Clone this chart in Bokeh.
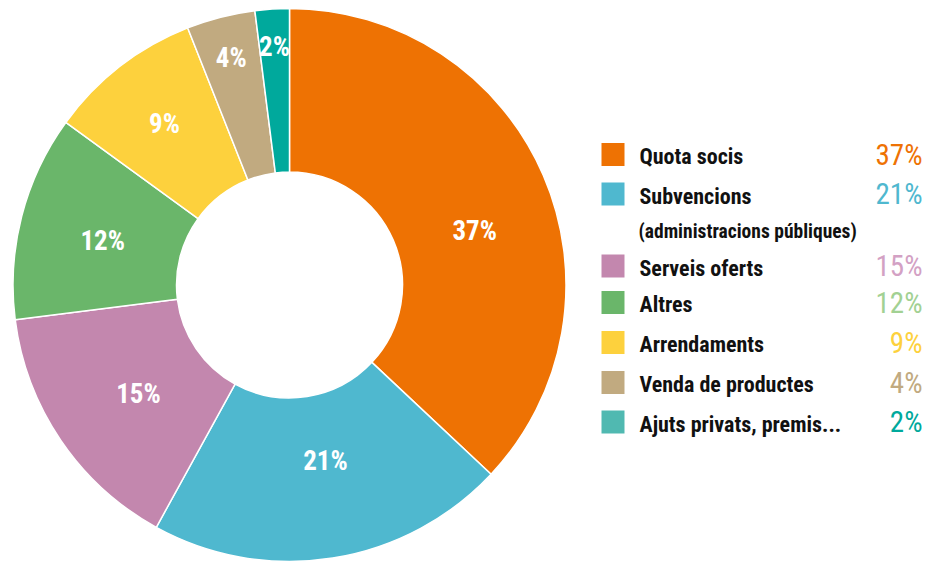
import math
from bokeh.plotting import figure
from bokeh.models import ColumnDataSource, Range1d
from bokeh.core.properties import value
from bokeh.embed import file_html
from bokeh.resources import INLINE

# ---- data ----
categories = ["Quota socis", "Subvencions", "Serveis oferts", "Altres",
              "Arrendaments", "Venda de productes", "Ajuts privats, premis..."]
values = [37, 21, 15, 12, 9, 4, 2]
sub_labels = ["", "(administracions públiques)", "", "", "", "", ""]
pct_labels = [f"{v}%" for v in values]

# ---- styles / layout ----
slice_colors = ["#EE7203", "#4FB8CF", "#C387AE", "#6AB66A", "#FDD13D", "#C1AA80", "#00A99C"]
swatch_colors = ["#EE7203", "#4FB8CF", "#C387AE", "#6AB66A", "#FDD13D", "#C1AA80", "#50B9B1"]
legend_pct_colors = ["#EE7203", "#4FB8CF", "#D3A1C4", "#A2D193", "#FDD13D", "#C1AA80", "#00A99C"]
label_r = [193, 180, 186, 192, 204, 234, 238]
label_shift_deg = [7.0, -2.5, -1.5, -1.0, 0.0, 0.0, 0.0]
legend_row_y = [408, 368.5, 296.5, 260, 220, 180, 140.5]   # swatch centres
sub_offset = 37.5

FONT = "Roboto Condensed"

W, H = 928, 562
p = figure(width=W, height=H, output_backend="svg", toolbar_location=None,
           x_range=Range1d(0, W), y_range=Range1d(0, H), min_border=0)
p.axis.visible = False
p.grid.visible = False
p.outline_line_color = None
p.background_fill_color = "white"
p.border_fill_color = "white"

cx, cy = 289.0, 277.5
r_in, r_out = 113.0, 276.5

total = float(sum(values))
starts, ends, mids = [], [], []
acc = 0.0
for v in values:
    a0 = acc / total * 360.0
    acc += v
    a1 = acc / total * 360.0
    starts.append(a0)
    ends.append(a1)
    mids.append((a0 + a1) / 2.0)

def to_rad(deg):
    return math.radians(90.0 - deg)

src = ColumnDataSource(dict(
    start=[to_rad(a) for a in starts],
    end=[to_rad(a) for a in ends],
    color=slice_colors,
))
p.annular_wedge(x=cx, y=cy, inner_radius=r_in, outer_radius=r_out,
                start_angle="start", end_angle="end", direction="clock",
                fill_color="color", line_color="white", line_width=1.5, source=src)

lx = [cx + r * math.sin(math.radians(m + s)) for r, m, s in zip(label_r, mids, label_shift_deg)]
ly = [cy + r * math.cos(math.radians(m + s)) for r, m, s in zip(label_r, mids, label_shift_deg)]
p.text(x=lx, y=ly, text=pct_labels, text_color="white", text_font=value(FONT),
       text_font_style="bold", text_font_size="27px", text_align="center",
       text_baseline="middle")

# ---- legend ----
sw = 23.0
n = len(values)
p.rect(x=[612.5] * n, y=legend_row_y, width=sw, height=sw,
       fill_color=swatch_colors, line_color=None)
p.text(x=[639] * n, y=[y - 2 for y in legend_row_y], text=categories, text_color="#111111",
       text_font=value(FONT), text_font_style="bold", text_font_size="22px",
       text_align="left", text_baseline="middle")
sub_idx = [i for i, s in enumerate(sub_labels) if s]
p.text(x=[638] * len(sub_idx), y=[legend_row_y[i] - sub_offset for i in sub_idx],
       text=[sub_labels[i] for i in sub_idx], text_color="#111111",
       text_font=value(FONT), text_font_style="bold", text_font_size="19.5px",
       text_align="left", text_baseline="middle")
p.text(x=[922] * n, y=legend_row_y, text=pct_labels, text_color=legend_pct_colors,
       text_font=value(FONT), text_font_style="normal", text_font_size="29px",
       text_align="right", text_baseline="middle")

open("out.html", "w").write(file_html(p, INLINE))
